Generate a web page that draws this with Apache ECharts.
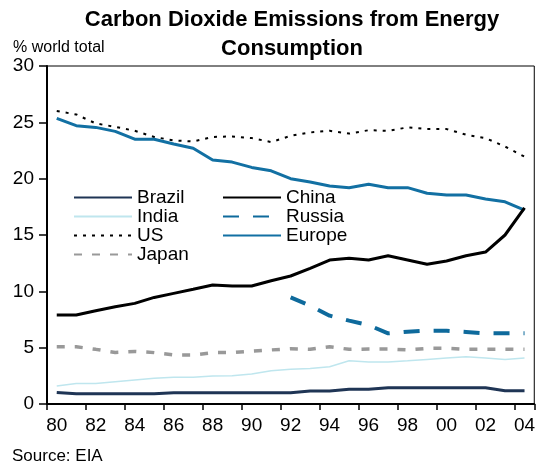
<!DOCTYPE html>
<html>
<head>
<meta charset="utf-8">
<script src="https://cdn.jsdelivr.net/npm/echarts@6/dist/echarts.min.js"></script>
<style>
html,body{margin:0;padding:0;background:#fff;}
#chart{width:538px;height:462px;}
</style>
</head>
<body>
<div id="chart"></div>
<script>
var years = ['80','81','82','83','84','85','86','87','88','89','90','91','92','93','94','95','96','97','98','99','00','01','02','03','04'];
var brazil = [1.03,0.9,0.9,0.9,0.9,0.9,1.0,1.0,1.0,1.0,1.0,1.0,1.0,1.15,1.15,1.3,1.3,1.45,1.45,1.45,1.45,1.45,1.45,1.18,1.18];
var china = [7.9,7.9,8.28,8.63,8.93,9.46,9.82,10.18,10.56,10.47,10.47,10.94,11.36,12.04,12.78,12.93,12.78,13.16,12.78,12.4,12.69,13.16,13.49,15.0,17.4];
var india = [1.6,1.83,1.83,1.98,2.13,2.28,2.37,2.37,2.48,2.5,2.66,2.96,3.08,3.16,3.31,3.84,3.73,3.73,3.84,3.96,4.08,4.2,4.08,3.96,4.08];
var russia = [null,null,null,null,null,null,null,null,null,null,null,null,9.47,8.73,7.84,7.4,7.0,6.27,6.42,6.5,6.5,6.39,6.27,6.27,6.27];
var us = [26.0,25.7,24.9,24.6,24.25,23.7,23.4,23.3,23.7,23.75,23.6,23.25,23.8,24.1,24.25,24.0,24.3,24.25,24.55,24.4,24.4,23.9,23.6,22.85,21.95];
var europe = [25.35,24.7,24.55,24.2,23.5,23.5,23.07,22.7,21.65,21.47,21.0,20.7,20.0,19.7,19.35,19.2,19.5,19.2,19.2,18.7,18.55,18.55,18.2,17.95,17.2];
var japan = [5.08,5.08,4.85,4.58,4.67,4.56,4.35,4.35,4.56,4.56,4.7,4.8,4.9,4.85,5.08,4.85,4.88,4.88,4.8,4.94,4.94,4.85,4.85,4.85,4.85];
var yTicks = [0,5,10,15,20,25,30];
var legendCol1 = ['Brazil','India','US','Japan'];
var legendCol2 = ['China','Russia','Europe'];

var FONT = 'Liberation Sans, Arial, sans-serif';
var chart = echarts.init(document.getElementById('chart'), null, {renderer:'canvas'});

function line(name, data, color, width, type, z) {
  return {
    name: name, type: 'line', data: data, symbol: 'none', showSymbol: false,
    connectNulls: false, z: z || 2,
    lineStyle: {color: color, width: width, type: type},
    itemStyle: {color: color}
  };
}

function legend(left, data) {
  return {
    orient: 'vertical', left: left, top: 188, padding: 0, itemWidth: 58, itemHeight: 10, itemGap: 0,
    data: data, selectedMode: false,
    itemStyle: {opacity: 0},
    textStyle: {fontFamily: FONT, fontSize: 19, color: '#000', lineHeight: 19}
  };
}

chart.setOption({
  animation: false,
  backgroundColor: '#fff',
  title: [
    {text: 'Carbon Dioxide Emissions from Energy\nConsumption', left: 287, top: 0, textAlign: 'center',
     textStyle: {fontFamily: FONT, fontSize: 22, fontWeight: 'bold', color: '#000', lineHeight: 29}},
    {text: '% world total', left: 8, top: 35, textStyle: {fontFamily: FONT, fontSize: 16, fontWeight: 'normal', color: '#000'}},
    {text: 'Source: EIA', left: 7, top: 443, textStyle: {fontFamily: FONT, fontSize: 17, fontWeight: 'normal', color: '#000'}}
  ],
  legend: [legend(73, legendCol1), legend(222, legendCol2)],
  grid: {left: 47, top: 66, width: 492, height: 338, show: true, borderColor: '#000', borderWidth: 1, backgroundColor: 'transparent'},
  xAxis: {
    type: 'category', data: years, boundaryGap: true,
    axisLine: {lineStyle: {color: '#000', width: 2}},
    axisTick: {show: true, interval: 1, length: 6, lineStyle: {color: '#000', width: 1.5}, alignWithLabel: false},
    axisLabel: {interval: 1, fontFamily: FONT, fontSize: 19, color: '#000', margin: 12},
    splitLine: {show: false}
  },
  yAxis: {
    type: 'value', min: yTicks[0], max: yTicks[yTicks.length-1], interval: 5,
    axisLine: {show: true, lineStyle: {color: '#000', width: 2}},
    axisTick: {show: true, length: 8, lineStyle: {color: '#000', width: 1.5}},
    axisLabel: {fontFamily: FONT, fontSize: 19, color: '#000', margin: 13},
    splitLine: {show: false}
  },
  series: [
    line('Brazil', brazil, '#1f3555', 3, 'solid', 3),
    line('China', china, '#000000', 3, 'solid', 4),
    line('India', india, '#bfe6ee', 1.5, 'solid', 2),
    line('Russia', russia, '#0e6a9c', 4, [16, 14], 3),
    line('US', us, '#000000', 2, [3, 6], 3),
    line('Europe', europe, '#1270a3', 3, 'solid', 3),
    line('Japan', japan, '#999999', 3.5, [8, 10], 2)
  ]
});
</script>
</body>
</html>
